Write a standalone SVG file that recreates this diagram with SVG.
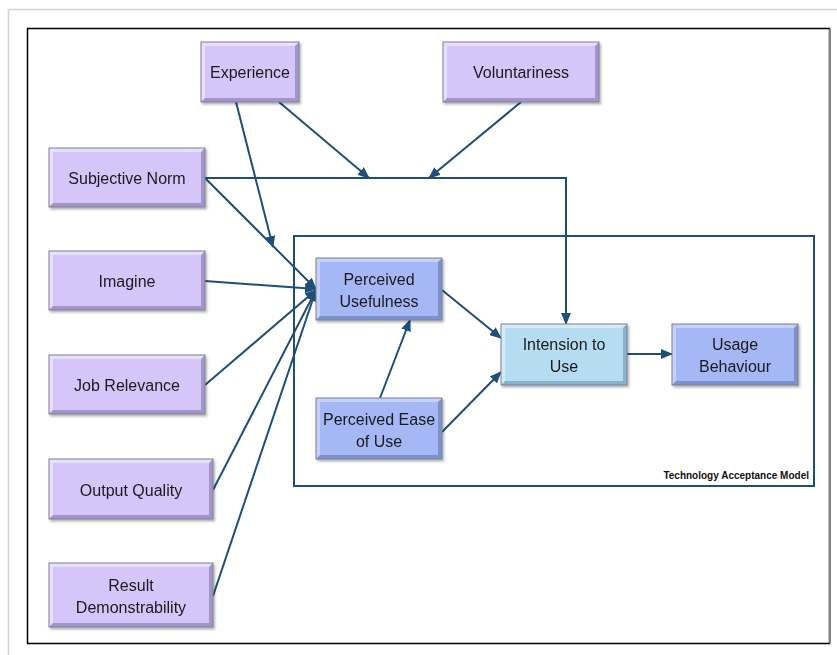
<svg xmlns="http://www.w3.org/2000/svg" width="837" height="655" viewBox="0 0 837 655">
  <defs>
    <marker id="arrow" markerUnits="userSpaceOnUse" markerWidth="12" markerHeight="10" refX="11" refY="5" orient="auto">
      <path d="M0,0 L12,5 L0,10 z" fill="#1f4e79"/>
    </marker>
    <filter id="shadow" x="-10%" y="-10%" width="130%" height="140%">
      <feDropShadow dx="1.5" dy="2" stdDeviation="1.2" flood-color="#000" flood-opacity="0.3"/>
    </filter>
  </defs>
  <style>
    .lbl { font-family: "Liberation Sans", Arial, sans-serif; font-size: 16px; fill: #1a1a1a; text-anchor: middle; }
    .cap { font-family: "Liberation Sans", Arial, sans-serif; font-size: 10px; font-weight: bold; fill: #111; text-anchor: end; }
    .edge { fill: none; stroke: #1f4e79; stroke-width: 2; }
    .purple .dk { fill: #a395cc; } .purple .lt { fill: #e8defd; } .purple .mid { fill: #d5c5f8; }
    .blue .dk { fill: #7e91cf; } .blue .lt { fill: #c5d1fb; } .blue .mid { fill: #a5b7f5; }
    .sky .dk { fill: #88b1ca; } .sky .lt { fill: #d3ecf9; } .sky .mid { fill: #b6dcf1; }
    .frame { fill: none; stroke: #7f7f8f; stroke-width: 1; }
  </style>

  <!-- page background and borders -->
  <rect width="837" height="655" fill="#ffffff"/>
  <path d="M8.5,655 V9.5 H837" fill="none" stroke="#d4d4d4" stroke-width="1.5"/>
  <rect x="27.5" y="28.5" width="802" height="615" fill="none" stroke="#000" stroke-width="1.5"/>
  <line x1="830" y1="29" x2="830" y2="643" stroke="#808080" stroke-width="2"/>

  <!-- TAM container -->
  <g id="tam">
    <rect x="294" y="236" width="520" height="250" fill="none" stroke="#1f4e79" stroke-width="2"/>
    <text class="cap" x="809" y="479">Technology Acceptance Model</text>
  </g>

  <!-- connectors -->
  <g id="connectors">
    <line class="edge" x1="236" y1="102" x2="273" y2="247" marker-end="url(#arrow)"/>
    <line class="edge" x1="279" y1="102" x2="369" y2="178" marker-end="url(#arrow)"/>
    <line class="edge" x1="521" y1="102" x2="429" y2="178" marker-end="url(#arrow)"/>
    <polyline class="edge" points="205,178 566,178 566,324" marker-end="url(#arrow)"/>
    <line class="edge" x1="205" y1="178" x2="316" y2="289" marker-end="url(#arrow)"/>
    <line class="edge" x1="205" y1="281" x2="316" y2="289" marker-end="url(#arrow)"/>
    <line class="edge" x1="205" y1="385" x2="316" y2="290" marker-end="url(#arrow)"/>
    <line class="edge" x1="213" y1="490" x2="316" y2="290" marker-end="url(#arrow)"/>
    <line class="edge" x1="213" y1="596" x2="316" y2="290" marker-end="url(#arrow)"/>
    <line class="edge" x1="442" y1="290" x2="501" y2="338" marker-end="url(#arrow)"/>
    <line class="edge" x1="380" y1="398" x2="410" y2="320" marker-end="url(#arrow)"/>
    <line class="edge" x1="442" y1="432" x2="501" y2="372" marker-end="url(#arrow)"/>
    <line class="edge" x1="627" y1="354" x2="672" y2="354" marker-end="url(#arrow)"/>
  </g>

  <!-- nodes: outer dark bevel, light top-left bevel, face, outline -->
  <g id="experience" class="purple" filter="url(#shadow)">
    <rect class="dk" x="201" y="42" width="98" height="60"/>
    <polygon class="lt" points="201,42 299,42 295,46 205,46 205,98 201,102"/>
    <rect class="mid" x="205" y="46" width="90" height="52"/>
    <rect class="frame" x="201" y="42" width="98" height="60"/>
    <text class="lbl" x="250" y="78">Experience</text>
  </g>
  <g id="voluntariness" class="purple" filter="url(#shadow)">
    <rect class="dk" x="443" y="42" width="156" height="60"/>
    <polygon class="lt" points="443,42 599,42 595,46 447,46 447,98 443,102"/>
    <rect class="mid" x="447" y="46" width="148" height="52"/>
    <rect class="frame" x="443" y="42" width="156" height="60"/>
    <text class="lbl" x="521" y="78">Voluntariness</text>
  </g>
  <g id="subjective-norm" class="purple" filter="url(#shadow)">
    <rect class="dk" x="49" y="148" width="156" height="59"/>
    <polygon class="lt" points="49,148 205,148 201,152 53,152 53,203 49,207"/>
    <rect class="mid" x="53" y="152" width="148" height="51"/>
    <rect class="frame" x="49" y="148" width="156" height="59"/>
    <text class="lbl" x="127" y="184">Subjective Norm</text>
  </g>
  <g id="imagine" class="purple" filter="url(#shadow)">
    <rect class="dk" x="49" y="251" width="156" height="59"/>
    <polygon class="lt" points="49,251 205,251 201,255 53,255 53,306 49,310"/>
    <rect class="mid" x="53" y="255" width="148" height="51"/>
    <rect class="frame" x="49" y="251" width="156" height="59"/>
    <text class="lbl" x="127" y="287">Imagine</text>
  </g>
  <g id="job-relevance" class="purple" filter="url(#shadow)">
    <rect class="dk" x="49" y="355" width="156" height="59"/>
    <polygon class="lt" points="49,355 205,355 201,359 53,359 53,410 49,414"/>
    <rect class="mid" x="53" y="359" width="148" height="51"/>
    <rect class="frame" x="49" y="355" width="156" height="59"/>
    <text class="lbl" x="127" y="391">Job Relevance</text>
  </g>
  <g id="output-quality" class="purple" filter="url(#shadow)">
    <rect class="dk" x="49" y="459" width="164" height="60"/>
    <polygon class="lt" points="49,459 213,459 209,463 53,463 53,515 49,519"/>
    <rect class="mid" x="53" y="463" width="156" height="52"/>
    <rect class="frame" x="49" y="459" width="164" height="60"/>
    <text class="lbl" x="131" y="496">Output Quality</text>
  </g>
  <g id="result-demonstrability" class="purple" filter="url(#shadow)">
    <rect class="dk" x="49" y="563" width="164" height="64"/>
    <polygon class="lt" points="49,563 213,563 209,567 53,567 53,623 49,627"/>
    <rect class="mid" x="53" y="567" width="156" height="56"/>
    <rect class="frame" x="49" y="563" width="164" height="64"/>
    <text class="lbl" x="131" y="591">Result</text>
    <text class="lbl" x="131" y="613">Demonstrability</text>
  </g>
  <g id="perceived-usefulness" class="blue" filter="url(#shadow)">
    <rect class="dk" x="316" y="258" width="126" height="62"/>
    <polygon class="lt" points="316,258 442,258 438,262 320,262 320,316 316,320"/>
    <rect class="mid" x="320" y="262" width="118" height="54"/>
    <rect class="frame" x="316" y="258" width="126" height="62"/>
    <text class="lbl" x="379" y="285">Perceived</text>
    <text class="lbl" x="379" y="307">Usefulness</text>
  </g>
  <g id="perceived-ease-of-use" class="blue" filter="url(#shadow)">
    <rect class="dk" x="316" y="398" width="126" height="61"/>
    <polygon class="lt" points="316,398 442,398 438,402 320,402 320,455 316,459"/>
    <rect class="mid" x="320" y="402" width="118" height="53"/>
    <rect class="frame" x="316" y="398" width="126" height="61"/>
    <text class="lbl" x="379" y="425">Perceived Ease</text>
    <text class="lbl" x="379" y="447">of Use</text>
  </g>
  <g id="intension-to-use" class="sky" filter="url(#shadow)">
    <rect class="dk" x="501" y="324" width="126" height="61"/>
    <polygon class="lt" points="501,324 627,324 623,328 505,328 505,381 501,385"/>
    <rect class="mid" x="505" y="328" width="118" height="53"/>
    <rect class="frame" x="501" y="324" width="126" height="61"/>
    <text class="lbl" x="564" y="350">Intension to</text>
    <text class="lbl" x="564" y="372">Use</text>
  </g>
  <g id="usage-behaviour" class="blue" filter="url(#shadow)">
    <rect class="dk" x="672" y="324" width="126" height="61"/>
    <polygon class="lt" points="672,324 798,324 794,328 676,328 676,381 672,385"/>
    <rect class="mid" x="676" y="328" width="118" height="53"/>
    <rect class="frame" x="672" y="324" width="126" height="61"/>
    <text class="lbl" x="735" y="350">Usage</text>
    <text class="lbl" x="735" y="372">Behaviour</text>
  </g>
</svg>
